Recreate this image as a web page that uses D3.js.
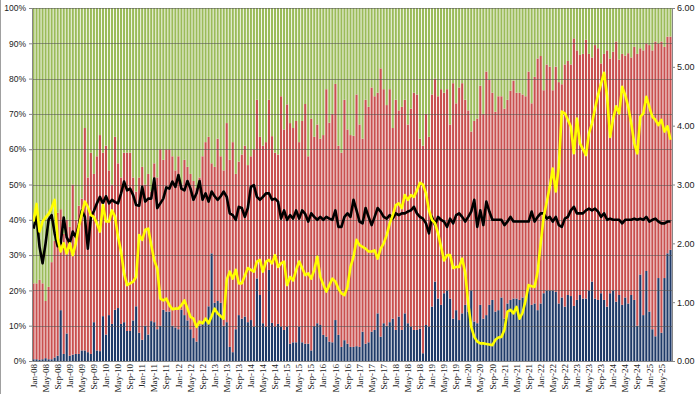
<!DOCTYPE html>
<html><head><meta charset="utf-8">
<script src="https://cdn.jsdelivr.net/npm/d3@7/dist/d3.min.js"></script>
<style>body{margin:0;background:#fff}svg{display:block}</style>
</head><body>
<svg id="c" width="700" height="394"></svg>
<script>
// Categories: monthly, Jan-08 .. Aug-25
const monthDates = d3.timeMonth.range(new Date(2008,0,1), new Date(2025,8,1));
const fmtMonth = d3.timeFormat("%b-%y");
const categories = monthDates.map(fmtMonth);

// Bottom (blue) share, %
const blueShare = [
0.5,0.5,0.3,0.5,0.8,0.5,0.5,1.0,1.5,14.4,2.0,7.8,
1.5,1.8,2.0,2.0,3.0,3.0,2.5,2.0,11.0,3.0,2.8,12.7,
7.5,13.0,10.5,14.5,15.0,10.5,11.0,8.5,8.5,11.5,15.5,8.0,
6.0,10.0,7.5,11.3,11.0,9.0,10.0,14.5,14.0,14.0,10.0,9.5,
9.0,14.5,13.0,11.5,9.0,6.5,5.5,10.0,10.5,12.0,15.5,30.5,
16.5,17.0,16.5,10.0,11.0,4.0,2.5,9.0,13.0,12.0,12.6,11.0,
11.6,9.7,23.4,18.7,10.7,9.7,25.8,10.8,9.7,10.5,9.7,8.8,
9.7,4.9,5.3,5.3,9.7,5.3,4.9,4.9,3.0,9.9,10.7,10.2,
7.4,6.9,5.5,5.3,11.6,7.4,4.0,5.9,4.9,4.0,4.0,4.2,
4.0,8.3,4.9,5.3,8.3,8.8,13.5,6.9,10.7,10.0,11.0,12.0,
8.8,12.6,8.8,13.5,10.7,9.7,8.8,8.8,9.2,2.2,10.2,9.7,
15.4,22.5,17.7,15.9,19.2,20.0,17.7,12.0,14.4,11.6,13.5,15.9,
14.0,20.0,11.2,10.7,15.9,12.0,13.0,15.9,17.3,14.0,14.4,18.0,
12.0,16.3,17.3,17.7,17.7,17.3,18.0,17.3,20.6,15.9,16.3,14.4,
16.3,19.2,20.0,20.0,20.0,19.6,16.3,18.0,15.4,18.7,18.4,15.6,
17.3,18.7,17.7,17.7,20.0,22.5,17.7,17.3,19.2,17.3,15.4,19.2,
20.0,16.8,18.7,15.9,18.0,16.3,18.7,17.3,10.0,24.5,13.0,25.5,
14.0,9.0,7.0,23.5,8.0,23.5,30.5,31.5
];

// Blue + red (cumulative) share, %; green is the rest up to 100%
const blueRedShare = [
22,22,23,22,17,21,28,34,42,43,36,40,
38,50,40,44,46,66,52,59,53,58,64,59,
61,54,50,63.5,56,52,59,59,59,52,48,52,
55,50,53,48,56,52,60,57,60,60,58,54,
58,50,57,55,53,51,49,52,58,62,63.5,56,
55,63,58,54,67.4,57,62,53,56.5,58.5,61,55.5,
58,60,74,63.5,61,62,74,63.7,59,58.5,75,65.6,
72.7,67.4,66,68,62,68,72.8,58,68.7,63.5,67,63,
64,77,67.5,70,78.5,61,59,74,65.6,64,63.8,75.5,
67,63,74,72,77.5,75,76,82.9,77,72.5,77,66,
74,71,72,74,67,71.5,76,75.5,63,61,70,63.5,
75.5,80,75,77,76,77,67,78.7,73,77.5,78.7,74,
71,65,68,68.7,78,70,82,79.6,76,70.6,75,75,
71.5,74,76.6,79.4,76,76,75.5,75,82,73,80.5,85.7,
86.4,76.7,84,83.4,76.7,83.4,79,78.4,84,85,84,91.4,
88,86.7,87,91,87,86,89.5,88.6,84.3,87,88,85.7,
87.6,90.5,85.4,87,86.5,87.2,86,89,87,88.6,88,90,
89.5,88,90.5,90,90.5,89,91.9,91.9
];

// Right-axis line series
const yellowLine = [
2.37,2.67,2.2,2.37,2.44,2.5,2.6,2.74,2.08,1.86,2.0,1.83,
2.0,1.8,2.0,2.28,2.5,2.71,2.62,2.48,2.45,2.34,2.2,2.65,
2.37,2.37,2.56,2.45,2.11,1.86,1.49,1.29,1.32,1.35,1.43,2.14,
2.06,2.23,2.25,1.97,1.71,1.57,1.06,1.03,1.06,0.95,0.88,0.89,
0.89,0.95,1.03,0.89,0.75,0.72,0.58,0.67,0.64,0.72,0.64,0.76,
0.89,0.81,0.76,0.72,1.38,1.52,1.4,1.55,1.32,1.32,1.45,1.58,
1.55,1.52,1.69,1.72,1.52,1.69,1.72,1.66,1.8,1.6,1.66,1.69,
1.29,1.43,1.37,1.55,1.69,1.58,1.46,1.49,1.4,1.55,1.77,1.43,
1.3,1.18,1.29,1.4,1.35,1.23,1.15,1.12,1.26,1.6,1.77,2.06,
1.97,1.94,1.91,1.86,1.86,1.88,1.74,1.91,2.0,2.14,2.34,2.48,
2.65,2.68,2.6,2.82,2.74,2.82,2.79,2.9,3.03,3.0,2.85,2.56,
2.4,2.34,2.17,1.94,1.71,1.8,1.8,1.58,1.6,1.6,1.74,1.5,
0.98,0.58,0.41,0.33,0.3,0.3,0.29,0.28,0.27,0.36,0.4,0.41,
0.53,0.84,0.87,0.81,0.92,0.72,0.82,1.03,1.29,1.27,1.26,1.52,
2.0,2.45,2.7,2.96,3.27,2.88,3.3,4.24,4.21,4.1,3.98,3.53,
4.12,3.7,3.6,3.5,3.87,4.04,4.29,4.52,4.72,4.9,4.5,3.81,
4.12,4.33,4.21,4.66,4.52,4.32,4.04,3.7,3.53,4.15,4.21,4.49,
4.32,4.15,4.1,4.01,4.1,3.9,3.99,3.76
];

const blackLine = [
2.25,2.45,1.94,1.66,2.0,2.4,2.48,2.17,1.95,2.0,2.44,2.1,
2.0,2.2,2.11,2.31,2.56,2.45,1.91,2.45,2.55,2.68,2.79,2.68,
2.8,2.68,2.74,2.7,2.68,2.85,3.05,2.9,2.93,2.82,2.65,2.64,
2.96,2.71,2.76,2.76,3.1,2.6,2.68,2.76,2.95,2.93,3.05,2.96,
3.16,2.93,2.9,3.06,2.93,2.74,2.85,3.06,2.74,2.85,2.71,2.88,
2.8,2.74,2.8,2.88,2.79,2.51,2.48,2.4,2.62,2.6,2.45,2.6,
2.96,2.99,2.79,2.74,2.79,2.85,2.85,2.74,2.76,2.71,2.42,2.56,
2.4,2.48,2.42,2.56,2.42,2.56,2.5,2.37,2.51,2.45,2.4,2.45,
2.4,2.45,2.42,2.4,2.56,2.28,2.28,2.45,2.51,2.45,2.74,2.56,
2.37,2.34,2.6,2.45,2.31,2.45,2.6,2.54,2.45,2.42,2.48,2.42,
2.51,2.48,2.51,2.51,2.54,2.56,2.62,2.51,2.45,2.42,2.34,2.17,
2.45,2.31,2.45,2.4,2.37,2.28,2.42,2.34,2.48,2.51,2.45,2.37,
2.45,2.54,2.74,2.28,2.56,2.31,2.71,2.54,2.4,2.4,2.4,2.4,
2.31,2.37,2.45,2.37,2.37,2.37,2.37,2.37,2.37,2.54,2.37,2.45,
2.51,2.51,2.42,2.45,2.37,2.45,2.31,2.28,2.42,2.45,2.56,2.62,
2.51,2.51,2.51,2.56,2.59,2.56,2.59,2.54,2.45,2.51,2.4,2.42,
2.4,2.4,2.4,2.34,2.4,2.4,2.4,2.42,2.4,2.42,2.4,2.45,
2.37,2.4,2.42,2.37,2.34,2.34,2.37,2.37
];

const leftTicks = [0,10,20,30,40,50,60,70,80,90,100];
const rightTicks = [0,1,2,3,4,5,6];
const xTickEvery = 4;

// ---- drawing ----
const svg = d3.select("#c");
const n = categories.length;
const x = d3.scaleBand().domain(d3.range(n)).range([32, 672]).paddingInner(0.3).paddingOuter(0.15);
const yL = d3.scaleLinear().domain([0, 100]).range([361, 8]);
const yR = d3.scaleLinear().domain([0, 6]).range([361, 8]);

const rows = categories.map((c, i) => ({
  i,
  blue: blueShare[i],
  red: blueRedShare[i] - blueShare[i],
  green: 100 - blueRedShare[i]
}));
const keys = ["blue", "red", "green"];
const colors = {blue: "#1f3a68", red: "#c9504f", green: "#9bbb59"};
const stacked = d3.stack().keys(keys)(rows);

// outer frame line at left
svg.append("line").attr("x1", 0.5).attr("x2", 0.5).attr("y1", 0).attr("y2", 394)
  .attr("stroke", "#a0a0a0").attr("stroke-width", 1);

svg.append("g").selectAll("g").data(stacked).join("g")
  .attr("fill", d => colors[d.key])
  .selectAll("rect").data(d => d).join("rect")
  .attr("x", d => x(d.data.i))
  .attr("width", x.bandwidth())
  .attr("y", d => yL(d[1]))
  .attr("height", d => yL(d[0]) - yL(d[1]));

// gridlines
svg.append("g").selectAll("line").data(leftTicks.filter(t => t > 0)).join("line")
  .attr("x1", 32).attr("x2", 672)
  .attr("y1", d => Math.round(yL(d)) + 0.5).attr("y2", d => Math.round(yL(d)) + 0.5)
  .attr("stroke", "#505050").attr("stroke-opacity", 0.55).attr("stroke-width", 1);

const line = d3.line().x((v, i) => x(i) + x.bandwidth() / 2).y(v => yR(v)).curve(d3.curveLinear);
svg.append("path").datum(blackLine).attr("d", line)
  .attr("fill", "none").attr("stroke", "#000").attr("stroke-width", 2.6).attr("stroke-linejoin", "round");
svg.append("path").datum(yellowLine).attr("d", line)
  .attr("fill", "none").attr("stroke", "#ffff00").attr("stroke-width", 2.6).attr("stroke-linejoin", "round");

// axes
const axisColor = "#868686";
const gl = svg.append("g").attr("transform", "translate(32,0)")
  .call(d3.axisLeft(yL).tickValues(leftTicks).tickFormat(d => d + "%").tickSize(3).tickPadding(3));
gl.selectAll("text").attr("font-family", "'Liberation Sans', Arial, sans-serif").attr("font-size", "8.5px").attr("fill", "#222");

const gr = svg.append("g").attr("transform", "translate(672,0)")
  .call(d3.axisRight(yR).tickValues(rightTicks).tickFormat(d3.format(".2f")).tickSize(3).tickPadding(2));
gr.selectAll("text").attr("font-family", "'Liberation Sans', Arial, sans-serif").attr("font-size", "9px").attr("fill", "#222");

const gb = svg.append("g").attr("transform", "translate(0,361)")
  .call(d3.axisBottom(x).tickValues(d3.range(0, n, xTickEvery)).tickFormat(i => categories[i]).tickSize(0));
gb.selectAll("text")
  .attr("transform", "rotate(-90)")
  .attr("x", -3).attr("y", 0).attr("dy", "0.35em")
  .attr("text-anchor", "end")
  .attr("font-family", "'Liberation Serif', 'Times New Roman', serif").attr("font-size", "9px").attr("fill", "#222");

[gl, gr, gb].forEach(g => {
  g.select(".domain").attr("stroke", axisColor);
  g.selectAll(".tick line").attr("stroke", axisColor);
});
</script>
</body></html>
